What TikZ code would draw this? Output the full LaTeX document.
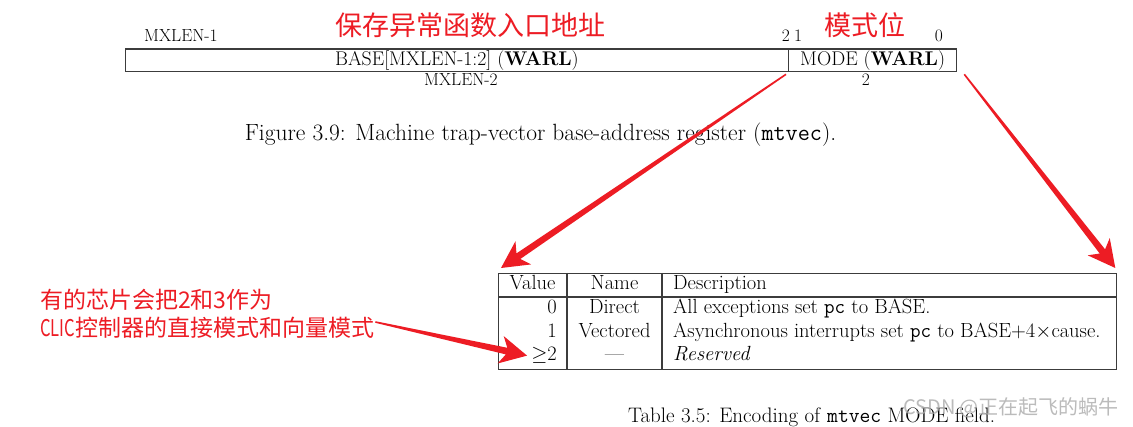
\documentclass[tikz,border=0pt]{standalone}
\usepackage{fontspec}
\newfontfamily\cjk{Noto Sans CJK SC}
\usetikzlibrary{calc}
\definecolor{annot}{RGB}{237,28,36}
\definecolor{rulecol}{RGB}{60,60,60}
\definecolor{wmark}{RGB}{170,170,170}
\newcommand\redarrow[2]{%
  \coordinate (ra-b) at ($(#2)!21pt!(#1)$);
  \coordinate (ra-h) at ($(#2)!27pt!(#1)$);
  \fill[annot] ($(#1)!0.8pt!90:(#2)$) -- ($(ra-b)!3.4pt!90:(#2)$) -- ($(ra-h)!14pt!90:(#2)$)
     -- (#2) -- ($(ra-h)!14pt!-90:(#2)$) -- ($(ra-b)!3.4pt!-90:(#2)$) -- ($(#1)!0.8pt!-90:(#2)$) -- cycle;}
\begin{document}
\begin{tikzpicture}[x=1pt,y=-1pt,
  field/.style={draw=rulecol,line width=1.3pt,inner sep=0pt,anchor=north west,minimum height=22.5pt,font=\fontsize{19.8}{22}\selectfont},
  bitlbl/.style={inner sep=0pt,anchor=base,font=\fontsize{17.5}{19}\selectfont},
  cell/.style={inner sep=0pt,anchor=base,font=\fontsize{20.5}{22}\selectfont},
  cnred/.style={inner sep=0pt,text=annot,font=\cjk\fontsize{27}{30}\selectfont},
  cnnote/.style={inner sep=0pt,text=annot,anchor=west,font=\cjk\fontsize{23}{26}\selectfont},
  tline/.style={draw=rulecol,line width=1.3pt}]
\useasboundingbox (0,0) rectangle (1133,427);
\fill[white] (0,0) rectangle (1133,427);
% register
\node[field,minimum width=663.5pt] (base) at (124.5,48.5) {BASE[MXLEN-1:2] (\textbf{WARL})};
\node[field,minimum width=168pt] (mode) at (788,48.5) {MODE (\textbf{WARL})};
\node[bitlbl] (b1) at (181,41.5) {MXLEN-1};
\node[bitlbl,anchor=base east] (b2) at (790,41.5) {2};
\node[bitlbl,anchor=base west] (b3) at (794,41.5) {1};
\node[bitlbl] (b4) at (939,41.5) {0};
\node[bitlbl] (w1) at (461,86) {MXLEN-2};
\node[bitlbl] (w2) at (866,86) {2};
\node[cnred] (t1) at (470,25) {保存异常函数入口地址};
\node[cnred] (t2) at (865,25) {模式位};
\node[inner sep=0pt,anchor=base,font=\fontsize{23.5}{26}\selectfont] (cap1) at (540.5,141) {Figure 3.9: Machine trap-vector base-address register (\texttt{mtvec}).};
% table
\node[draw=rulecol,line width=1.3pt,anchor=north west,minimum width=618pt,minimum height=96pt,inner sep=0pt] (tbl) at (498,273) {};
\draw[tline] ($(tbl.north west)+(0,24)$) -- ($(tbl.north east)+(0,24)$);
\draw[tline] ($(tbl.north west)+(69,0)$) -- ($(tbl.south west)+(69,0)$);
\draw[tline] ($(tbl.north west)+(164,0)$) -- ($(tbl.south west)+(164,0)$);
\node[cell] (h1) at (532.5,290) {Value};
\node[cell] (h2) at (614.5,290) {Name};
\node[cell,anchor=base west] (h3) at (673,290) {Description};
\node[cell,anchor=base east] (v0) at (557,314) {0};
\node[cell,anchor=base east] (v1) at (557,337.5) {1};
\node[cell,anchor=base east] (v2) at (557,361) {$\geq$2};
\node[cell] (n0) at (614.5,314) {Direct};
\node[cell] (n1) at (614.5,337.5) {Vectored};
\node[cell] (n2) at (614.5,361) {---};
\node[cell,anchor=base west] (d0) at (673,314) {All exceptions set \texttt{pc} to BASE.};
\node[cell,anchor=base west] (d1) at (673,337.5) {Asynchronous interrupts set \texttt{pc} to BASE+4$\times$cause.};
\node[cell,anchor=base west] (d2) at (673,361) {\textit{Reserved}};
\node[inner sep=0pt,anchor=base west,font=\fontsize{21}{23}\selectfont] (cap2) at (628,423) {Table 3.5: Encoding of \texttt{mtvec} MODE field.};
\node[inner sep=0pt,text=wmark,opacity=0.8,font=\cjk\fontsize{20}{22}\selectfont] (wm) at (1011,408) {CSDN @正在起飞的蜗牛};
% annotation
\node[cnnote] (n1a) at (40,300) {有的芯片会把2和3作为};
\node[cnnote] (n2a) at (40,328) {\scalebox{0.72}[1]{CLIC}控制器的直接模式和向量模式};
% arrows
\coordinate (a1s) at ($(mode.south west)+(-2,2)$);
\coordinate (a1e) at ($(tbl.north west)+(3,-5)$);
\coordinate (a2s) at ($(mode.south east)+(7,2)$);
\coordinate (a2e) at ($(tbl.north east)+(-2,-5)$);
\coordinate (a3s) at ($(n2a.east)+(1,-6)$);
\coordinate (a3e) at ($(v2.west)+(-4,0)$);
\redarrow{a1s}{a1e}
\redarrow{a2s}{a2e}
\redarrow{a3s}{a3e}
\end{tikzpicture}
\end{document}
